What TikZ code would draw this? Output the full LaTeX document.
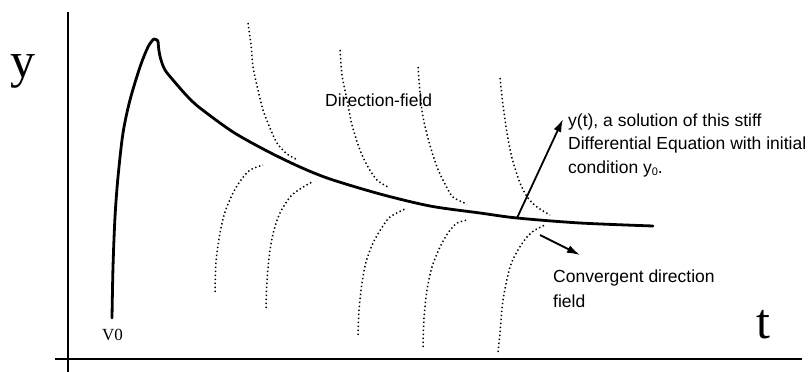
\documentclass[tikz,border=0pt]{standalone}
\usepackage{fontspec}
\setmainfont{Liberation Serif}
\newfontfamily\sansf{Liberation Sans}
\usetikzlibrary{arrows.meta}
\begin{document}
\begin{tikzpicture}[x=1pt,y=-1pt,
  axisline/.style={line width=2.2pt},
  sol/.style={line width=2.8pt, line join=round, line cap=round},
  fieldline/.style={line width=1.5pt, dash pattern=on 1.4pt off 2.6pt},
  arr/.style={line width=1.8pt, -{Latex[length=13pt,width=8pt]}},
  lbl/.style={font=\sansf\fontsize{17.5}{21}\selectfont, inner sep=0pt, anchor=base west},
  big/.style={font=\fontsize{50}{50}\selectfont, inner sep=0pt, anchor=base west}]
\useasboundingbox (0,0) rectangle (812,372);
% axes
\coordinate (ytop) at (68,12);
\coordinate (ybot) at (68,372);
\coordinate (xl) at (55,359);
\coordinate (xr) at (802,359);
\draw[axisline] (ytop) -- (ybot);
\draw[axisline] (xl) -- (xr);
\node[big] (ylab) at (10,77) {y};
\node[big] (tlab) at (756,338) {t};
\node[inner sep=0pt, anchor=base west, font=\fontsize{17}{17}\selectfont] (v0) at (102,340) {V0};
% solution curve
\draw[sol] plot[smooth] coordinates {(112,318) (113,267) (115,217) (118,177) (123,133) (130,100) (140,67) (148,47) (154,39) (158,41)};
\draw[sol] plot[smooth] coordinates {(158,41) (159,51) (161,60) (165,70) (173,80) (187,96) (200,108) (233,132) (267,151) (300,167) (330,179) (380,194) (430,206) (480,213) (517,218) (580,223) (653,226)};
% direction field (upper)
\draw[fieldline] plot[smooth] coordinates {(248,23) (251,45) (253,67) (258,90) (263,110) (270,128) (277,143) (287,154) (298,160)};
\draw[fieldline] plot[smooth] coordinates {(340,50) (342,75) (347,100) (352,125) (360,150) (368,167) (377,180) (388,187)};
\draw[fieldline] plot[smooth] coordinates {(418,67) (420,92) (423,117) (429,142) (437,167) (445,184) (453,197) (467,204)};
\draw[fieldline] plot[smooth] coordinates {(500,78) (503,105) (507,133) (512,158) (520,183) (528,198) (537,207) (550,215)};
% direction field (lower)
\draw[fieldline] plot[smooth] coordinates {(215,292) (216,262) (220,233) (225,212) (233,193) (241,180) (250,170) (263,165)};
\draw[fieldline] plot[smooth] coordinates {(266,308) (267,280) (270,250) (274,230) (280,213) (290,197) (300,189) (312,182)};
\draw[fieldline] plot[smooth] coordinates {(358,335) (359,310) (362,283) (366,262) (373,243) (381,229) (390,217) (405,209)};
\draw[fieldline] plot[smooth] coordinates {(423,347) (424,318) (427,290) (432,267) (440,247) (448,233) (457,223) (468,220)};
\draw[fieldline] plot[smooth] coordinates {(498,352) (500,333) (503,300) (510,267) (518,250) (527,237) (535,230) (545,225)};
% labels
\node[lbl] (df) at (325,106) {Direction-field};
\node[lbl] (s1) at (568,126) {y(t), a solution of this stiff};
\node[lbl] (s2) at (568,149.5) {Differential Equation with initial};
\node[lbl] (s3) at (568,173) {condition y\raisebox{-0.3ex}{\fontsize{11}{11}\selectfont 0}.};
\node[lbl] (c1) at (553,282) {Convergent direction};
\node[lbl] (c2) at (553,307) {field};
% arrows
\coordinate (a1s) at (517,218);
\coordinate (a1e) at (563,119);
\coordinate (a2s) at (540,235);
\coordinate (a2e) at (580,255);
\draw[arr] (a1s) -- (a1e);
\draw[arr] (a2s) -- (a2e);
\end{tikzpicture}
\end{document}
